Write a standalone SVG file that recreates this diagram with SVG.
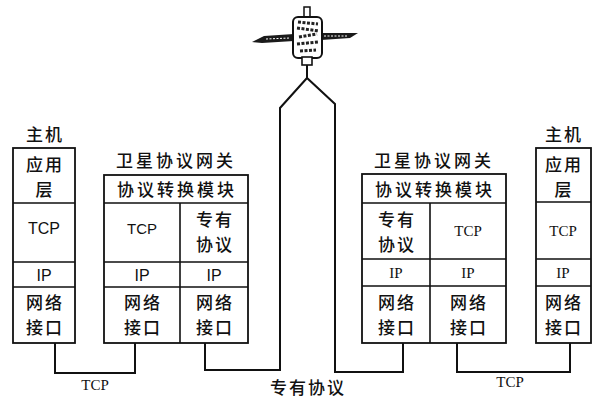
<svg xmlns="http://www.w3.org/2000/svg" width="601" height="400" viewBox="0 0 601 400">
  <style>
    .box { fill: #fff; stroke: #111; stroke-width: 1.8; }
    .div { stroke: #111; stroke-width: 1.6; fill: none; }
    .wire { stroke: #111; stroke-width: 2; fill: none; }
    .cn { font-family: "Noto Sans CJK SC", "Noto Sans", sans-serif; font-size: 17px; font-weight: 500; fill: #111; text-anchor: middle; letter-spacing: 2px; }
    .wide { letter-spacing: 3px; }
    .sans { font-family: "Liberation Sans", Arial, sans-serif; font-size: 16px; fill: #111; text-anchor: middle; }
    .serif { font-family: "Liberation Serif", "Times New Roman", serif; font-size: 15px; fill: #111; text-anchor: middle; }
  </style>
  <rect width="601" height="400" fill="#fff"/>

  <!-- satellite -->
  <g id="satellite">
    <rect x="304" y="7" width="6" height="10" fill="#fff" stroke="#111" stroke-width="1.5"/>
    <polygon points="252,42 264,36 294,34 294,41 262,43" fill="#1a1a1a"/>
    <polygon points="321,33 358,33 350,38 321,40" fill="#1a1a1a"/>
    <path d="M266,39 L290,38 M324,36 L348,36" stroke="#fff" stroke-width="1" stroke-dasharray="2 1.5"/>
    <rect x="293" y="17" width="29" height="41" rx="5" fill="#fff" stroke="#111" stroke-width="2"/>
    <path d="M298,22 L318,24 M297,28 L319,31 M299,37 L317,34 M297,44 L318,42 M300,51 L316,50" stroke="#222" stroke-width="3" stroke-dasharray="3 1.5"/>
    <rect x="302" y="57" width="10" height="8" fill="#fff" stroke="#111" stroke-width="1.6"/>
  </g>

  <!-- left host -->
  <g id="host-left">
    <text class="cn" x="45" y="141">主机</text>
    <rect class="box" x="13" y="148" width="62" height="195"/>
    <path class="div" d="M13,203 H75 M13,262 H75 M13,287 H75"/>
    <text class="cn" x="45" y="171">应用</text>
    <text class="cn" x="45" y="196">层</text>
    <text class="sans" x="44" y="234">TCP</text>
    <text class="sans" x="44" y="281">IP</text>
    <text class="cn" x="45" y="309">网络</text>
    <text class="cn" x="45" y="334">接口</text>
  </g>

  <!-- left gateway -->
  <g id="gateway-left">
    <text class="cn wide" x="176" y="167">卫星协议网关</text>
    <rect class="box" x="104" y="175" width="144" height="168"/>
    <path class="div" d="M104,203 H248 M104,262 H248 M104,287 H248 M180,203 V343"/>
    <text class="cn wide" x="177" y="196">协议转换模块</text>
    <text class="sans" x="142" y="234" style="font-size:15px">TCP</text>
    <text class="cn" x="215" y="226">专有</text>
    <text class="cn" x="215" y="251">协议</text>
    <text class="sans" x="142" y="281">IP</text>
    <text class="sans" x="214" y="281">IP</text>
    <text class="cn" x="143" y="309">网络</text>
    <text class="cn" x="143" y="334">接口</text>
    <text class="cn" x="215" y="309">网络</text>
    <text class="cn" x="215" y="334">接口</text>
  </g>

  <!-- right gateway -->
  <g id="gateway-right">
    <text class="cn wide" x="434" y="167">卫星协议网关</text>
    <rect class="box" x="362" y="174" width="144" height="169"/>
    <path class="div" d="M362,203 H506 M362,259 H506 M362,286 H506 M430,203 V343"/>
    <text class="cn wide" x="435" y="196">协议转换模块</text>
    <text class="cn" x="397" y="226">专有</text>
    <text class="cn" x="397" y="251">协议</text>
    <text class="serif" x="468" y="236">TCP</text>
    <text class="serif" x="396" y="278">IP</text>
    <text class="serif" x="468" y="278">IP</text>
    <text class="cn" x="397" y="309">网络</text>
    <text class="cn" x="397" y="334">接口</text>
    <text class="cn" x="469" y="309">网络</text>
    <text class="cn" x="469" y="334">接口</text>
  </g>

  <!-- right host -->
  <g id="host-right">
    <text class="cn" x="564" y="141">主机</text>
    <rect class="box" x="536" y="148" width="55" height="195"/>
    <path class="div" d="M536,202 H591 M536,259 H591 M536,286 H591"/>
    <text class="cn" x="564" y="171">应用</text>
    <text class="cn" x="564" y="196">层</text>
    <text class="serif" x="563" y="236">TCP</text>
    <text class="serif" x="563" y="278">IP</text>
    <text class="cn" x="564" y="309">网络</text>
    <text class="cn" x="564" y="334">接口</text>
  </g>

  <!-- links -->
  <g id="connectors">
    <path class="wire" d="M55,343 V373 H135 V343"/>
    <path class="wire" d="M205,343 V370 H280 V108 L307,78 L335,104 V372 H403 V343"/>
    <path class="wire" d="M307,65 V78"/>
    <path class="wire" d="M457,343 V372 H570 V343"/>
  </g>

  <!-- link labels -->
  <g id="labels">
    <text class="serif" x="95" y="390">TCP</text>
    <text class="cn" x="308" y="394">专有协议</text>
    <text class="serif" x="510" y="387">TCP</text>
  </g>
</svg>
